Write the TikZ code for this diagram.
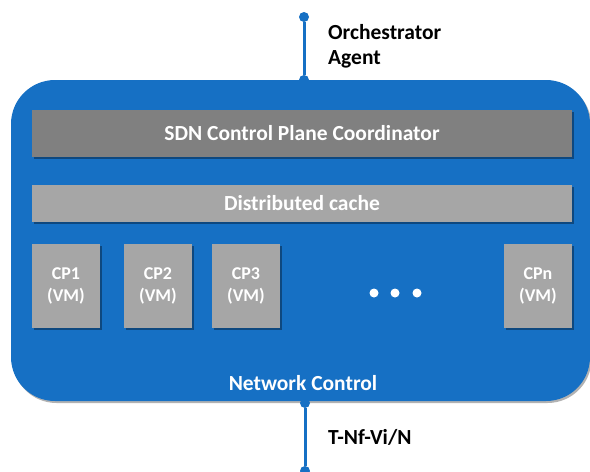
\documentclass[tikz,border=0pt]{standalone}
\usepackage{fontspec}
\setmainfont{Carlito}
\usetikzlibrary{shadows}
\definecolor{netblue}{HTML}{1670C4}
\definecolor{darkbar}{HTML}{808080}
\definecolor{lightbar}{HTML}{A6A6A6}
\tikzset{
  sh/.style={drop shadow={shadow xshift=1.5pt,shadow yshift=-1.5pt,opacity=0.35,fill=black}},
  bar/.style={draw=none, sh, font=\bfseries\fontsize{21.5}{24}\selectfont, text=white, inner sep=0pt},
  cpbox/.style={fill=lightbar, draw=none, sh, minimum width=68pt, minimum height=84pt, inner sep=0pt, align=center, text=white, font=\bfseries\fontsize{18}{21.5}\selectfont},
  dot/.style={circle, fill=netblue, minimum size=10pt, inner sep=0pt},
  conn/.style={draw=netblue, line width=3pt},
  lbl/.style={font=\bfseries\fontsize{21.5}{25}\selectfont, text=black, align=left, anchor=west, inner sep=0pt},
  ell/.style={circle, fill=white, minimum size=9pt, inner sep=0pt}
}
\begin{document}
\begin{tikzpicture}[x=1pt,y=-1pt]
\useasboundingbox (0,0) rectangle (590,472);
\clip (0,0) rectangle (590,472);
% main container
\fill[netblue, drop shadow={shadow xshift=1.5pt,shadow yshift=-2pt,opacity=0.3,fill=black}, rounded corners=44pt] (11,80) rectangle (590,401);
% bars
\node[bar, fill=darkbar, minimum width=540pt, minimum height=47pt] (sdn) at (302,133.5) {SDN Control Plane Coordinator};
\node[bar, fill=lightbar, minimum width=540pt, minimum height=37pt] (cache) at (302,203.5) {Distributed cache};
% CP boxes
\node[cpbox] (cp1) at (66,286) {CP1\\(VM)};
\node[cpbox] (cp2) at (158,286) {CP2\\(VM)};
\node[cpbox] (cp3) at (246,286) {CP3\\(VM)};
\node[cpbox] (cpn) at (538,286) {CPn\\(VM)};
\node[ell] (e1) at (374,293) {};
\node[ell] (e2) at (395,293) {};
\node[ell] (e3) at (417,293) {};
\node[text=white, font=\bfseries\fontsize{21.5}{24}\selectfont] (nc) at (303,383) {Network Control};
% connectors
\node[dot] (otop) at (304,17) {};
\node[dot] (tdot) at (304,80) {};
\draw[conn] (otop) -- (tdot);
\node[dot] (bdot) at (305,403) {};
\node[dot] (nbot) at (305,471) {};
\draw[conn] (bdot) -- (nbot);
\node[lbl] (orch) at (328,46) {Orchestrator\\Agent};
\node[lbl] (tnf) at (328,437) {T-Nf-Vi/N};
\end{tikzpicture}
\end{document}
